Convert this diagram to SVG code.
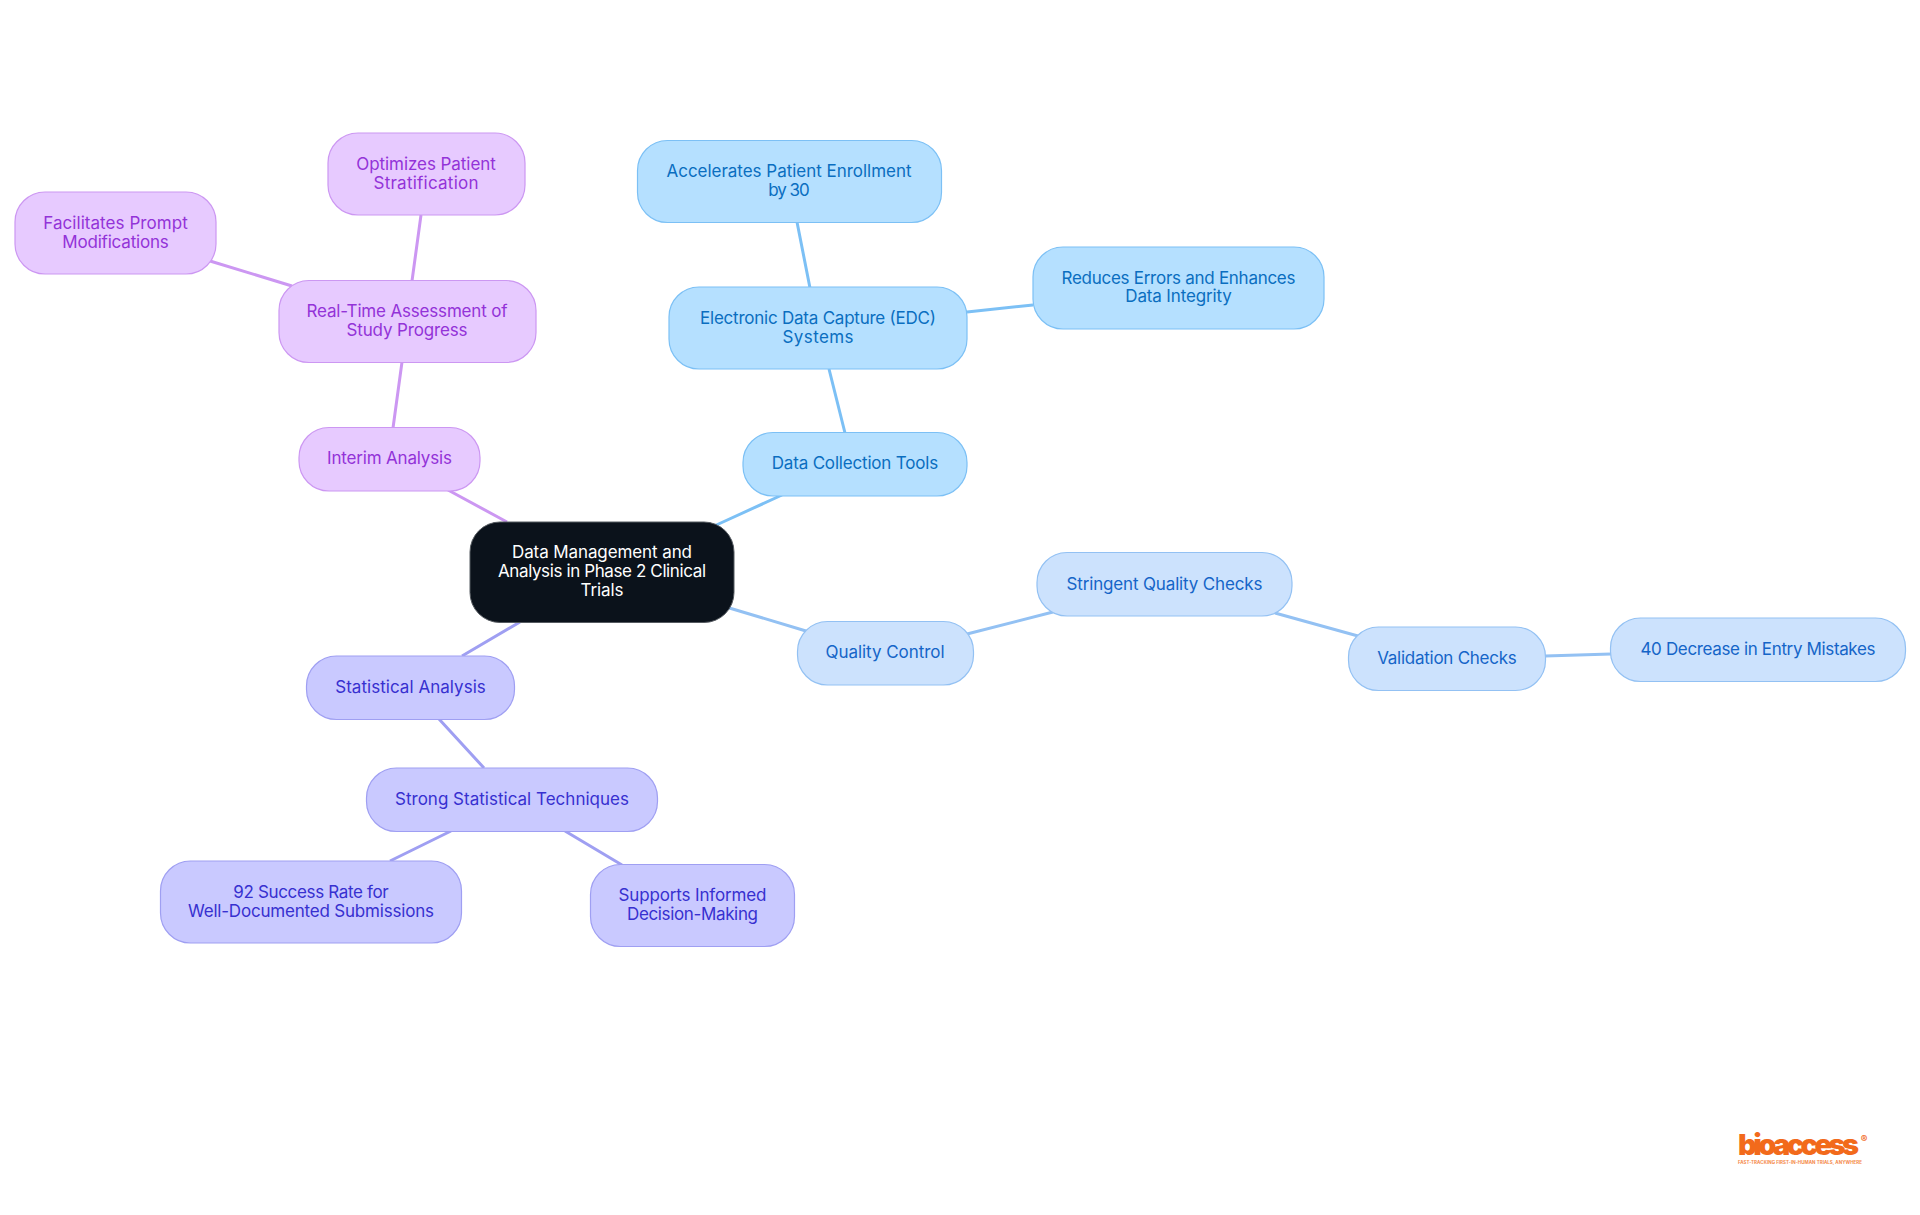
<svg xmlns="http://www.w3.org/2000/svg" width="1920" height="1215" viewBox="0 0 1920 1215">
<style>
text{font-family:"Inter","Noto Sans","Liberation Sans",sans-serif;font-size:17px;text-anchor:middle}
.c{stroke-width:3;fill:none}
.n{stroke-width:1.2}
.sky rect{fill:#b5e0ff;stroke:#7cc0f5}.sky text{fill:#0a6ec0}
.blue rect{fill:#cce2fd;stroke:#93c1f3}.blue text{fill:#1565c8}
.ind rect{fill:#c9c9ff;stroke:#9f9ff2}.ind text{fill:#3730d0}
.pur rect{fill:#e7caff;stroke:#cc97f2}.pur text{fill:#9333d8}
</style>
<rect width="1920" height="1215" fill="#ffffff"/>
<g id="connectors">
<path class="c" stroke="#7cc0f5" d="M712 527L782 495M845 433L829 369M810 288L797 222M967 312L1033 305"/>
<path class="c" stroke="#93c1f3" d="M726 607L806 631M967 634L1053 612M1275 613L1358 636M1545 656L1611 654"/>
<path class="c" stroke="#9f9ff2" d="M520 622L462 656M439 719L484 768M451 831L390 861M565 831L622 865"/>
<path class="c" stroke="#cc97f2" d="M507 522L448 490M393 428L402 362M412 281L421 215M292 286L210 261"/>
</g>
<g id="central"><rect x="470" y="522" width="264" height="100.500" rx="30" fill="#0b121b" stroke="#555a60" stroke-width="1"/><g fill="#fff"><text x="602" y="558" textLength="180">Data Management and</text><text x="602" y="577" textLength="208">Analysis in Phase 2 Clinical</text><text x="602" y="596" textLength="43">Trials</text></g></g>
<g id="data-collection" class="sky"><rect class="n" x="743" y="432.500" width="224" height="63.500" rx="30"/><text x="855" y="469" textLength="166.500">Data Collection Tools</text></g>
<g id="edc" class="sky"><rect class="n" x="669" y="287" width="298" height="82" rx="30"/><text x="818" y="324" textLength="236">Electronic Data Capture (EDC)</text><text x="818" y="343" textLength="71">Systems</text></g>
<g id="accelerates" class="sky"><rect class="n" x="637.500" y="140.500" width="304" height="82" rx="30"/><text x="789" y="177" textLength="245">Accelerates Patient Enrollment</text><text x="789" y="196" textLength="41.600">by 30</text></g>
<g id="reduces" class="sky"><rect class="n" x="1033" y="247" width="291" height="82" rx="30"/><text x="1178.500" y="284" textLength="234">Reduces Errors and Enhances</text><text x="1178.500" y="302" textLength="106.500">Data Integrity</text></g>
<g id="quality" class="blue"><rect class="n" x="797.500" y="621.500" width="176" height="63.500" rx="30"/><text x="885" y="658" textLength="119">Quality Control</text></g>
<g id="stringent" class="blue"><rect class="n" x="1037" y="552.500" width="255" height="63.500" rx="30"/><text x="1164.500" y="590" textLength="196">Stringent Quality Checks</text></g>
<g id="validation" class="blue"><rect class="n" x="1348.500" y="627" width="197" height="63.500" rx="30"/><text x="1447" y="664" textLength="139.600">Validation Checks</text></g>
<g id="decrease" class="blue"><rect class="n" x="1610.500" y="618" width="295" height="63.500" rx="30"/><text x="1758" y="655" textLength="235">40 Decrease in Entry Mistakes</text></g>
<g id="statistical" class="ind"><rect class="n" x="306.500" y="656" width="208" height="63.500" rx="30"/><text x="410.500" y="693" textLength="150.600">Statistical Analysis</text></g>
<g id="strong" class="ind"><rect class="n" x="366.500" y="768" width="291" height="63.500" rx="30"/><text x="512" y="805" textLength="234">Strong Statistical Techniques</text></g>
<g id="success" class="ind"><rect class="n" x="160.500" y="861" width="301" height="82" rx="30"/><text x="311" y="898" textLength="155.500">92 Success Rate for</text><text x="311" y="917" textLength="246">Well-Documented Submissions</text></g>
<g id="supports" class="ind"><rect class="n" x="590.500" y="864.500" width="204" height="82" rx="30"/><text x="692.500" y="901" textLength="148">Supports Informed</text><text x="692.500" y="920" textLength="131">Decision-Making</text></g>
<g id="interim" class="pur"><rect class="n" x="299" y="427.500" width="181" height="63.500" rx="30"/><text x="389.500" y="464" textLength="125">Interim Analysis</text></g>
<g id="realtime" class="pur"><rect class="n" x="279" y="280.500" width="257" height="82" rx="30"/><text x="407" y="317" textLength="201">Real-Time Assessment of</text><text x="407" y="336" textLength="121">Study Progress</text></g>
<g id="optimizes" class="pur"><rect class="n" x="328" y="133" width="197" height="82" rx="30"/><text x="426" y="170" textLength="139.600">Optimizes Patient</text><text x="426" y="189" textLength="105">Stratification</text></g>
<g id="facilitates" class="pur"><rect class="n" x="15" y="192" width="201" height="82" rx="30"/><text x="115.500" y="229" textLength="144.500">Facilitates Prompt</text><text x="115.500" y="248" textLength="106.500">Modifications</text></g>
<g id="logo"><text x="1798.500" y="1155" style="font-size:29px;font-weight:900" textLength="121" fill="#f26a1b">bioaccess</text><text x="1864" y="1143" style="font-size:10px;font-weight:700" fill="#f26a1b">®</text><text x="1800" y="1163.500" style="font-size:4.500px;font-weight:700" textLength="124" fill="#f58a4a">FAST-TRACKING FIRST-IN-HUMAN TRIALS, ANYWHERE</text></g>
</svg>
